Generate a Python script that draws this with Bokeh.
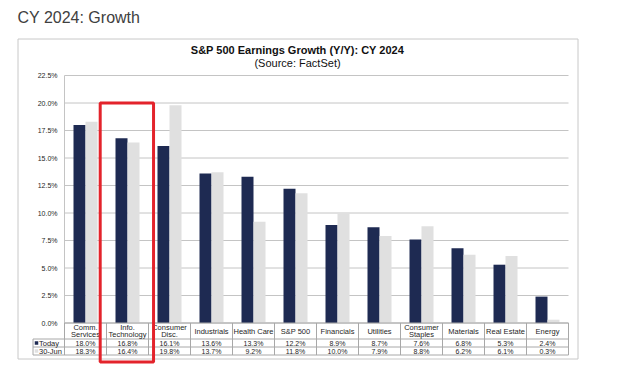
from bokeh.plotting import figure
from bokeh.models import Range1d
from bokeh.core.properties import value
from bokeh.embed import file_html
from bokeh.resources import INLINE

# ---------------- data ----------------
page_title = "CY 2024: Growth"
chart_title = "S&P 500 Earnings Growth (Y/Y): CY 2024"
chart_subtitle = "(Source: FactSet)"
categories = ["Comm.\nServices", "Info.\nTechnology", "Consumer\nDisc.", "Industrials",
              "Health Care", "S&P 500", "Financials", "Utilities", "Consumer\nStaples",
              "Materials", "Real Estate", "Energy"]
series_names = ["Today", "30-Jun"]
today = [18.0, 16.8, 16.1, 13.6, 13.3, 12.2, 8.9, 8.7, 7.6, 6.8, 5.3, 2.4]
jun30 = [18.3, 16.4, 19.8, 13.7, 9.2, 11.8, 10.0, 7.9, 8.8, 6.2, 6.1, 0.3]
y_ticks = [0.0, 2.5, 5.0, 7.5, 10.0, 12.5, 15.0, 17.5, 20.0, 22.5]
y_tick_labels = ["0.0%", "2.5%", "5.0%", "7.5%", "10.0%", "12.5%", "15.0%", "17.5%", "20.0%", "22.5%"]
highlighted = "Info.\nTechnology"

# ---------------- geometry ----------------
W, H = 630, 364
ORIGIN = 0      # observed screen position of the canvas origin
PX0 = 64.0      # screen x of plot left edge
CAT_W = 42.0    # px per category
PY0 = 322.5     # screen y of 0 %
PX_PER = 11.0   # px per 1 %

def dx(sx):
    return (sx - PX0) / CAT_W

def dy(sy):
    return (PY0 - sy) / PX_PER

FONT = value("Liberation Sans")
DARK = "#1e2a52"
LIGHT = "#e0e0e0"
GRID = "#c4c4c4"
TABLE = "#a8a8a8"
TXT = "#262626"

p = figure(width=W, height=H, output_backend="svg", toolbar_location=None,
           x_range=Range1d(dx(ORIGIN), dx(ORIGIN + W)),
           y_range=Range1d(dy(ORIGIN + H), dy(ORIGIN)),
           x_axis_type=None, y_axis_type=None, min_border=0,
           outline_line_color=None, background_fill_color="white")

n = len(categories)
bw = 12.0 / CAT_W

# outer chart box
p.quad(left=[dx(17.5)], right=[dx(577.5)], top=[dy(38.5)], bottom=[dy(358.5)],
       fill_alpha=0, line_color="#c8c8c8", line_width=1)

# gridlines
p.segment(x0=[0] * len(y_ticks), x1=[n] * len(y_ticks), y0=y_ticks, y1=y_ticks,
          line_color=GRID, line_width=1)
# y axis line
p.segment(x0=[0], x1=[0], y0=[0], y1=[y_ticks[-1]], line_color=GRID, line_width=1)

# y tick labels
p.text(x=[dx(57)] * len(y_ticks), y=y_ticks, text=y_tick_labels, text_font=FONT,
       text_font_size="7px", text_align="right", text_baseline="middle", text_color=TXT)

# bars
xc = [i + 0.5 for i in range(n)]
p.vbar(x=[c - bw / 2 for c in xc], top=today, bottom=0, width=bw, fill_color=DARK, line_color=None)
p.vbar(x=[c + bw / 2 for c in xc], top=jun30, bottom=0, width=bw, fill_color=LIGHT, line_color=None)

# table lines
row_lines = [338.5, 346.5, 354.5]
p.segment(x0=[dx(32.5)] * 3, x1=[n] * 3, y0=[dy(s) for s in row_lines], y1=[dy(s) for s in row_lines],
          line_color=TABLE, line_width=1)
p.segment(x0=[0], x1=[n], y0=[0], y1=[0], line_color=TABLE, line_width=1)
p.segment(x0=[dx(32.5)], x1=[dx(32.5)], y0=[dy(338.5)], y1=[dy(354.5)], line_color=TABLE, line_width=1)
p.segment(x0=list(range(n + 1)), x1=list(range(n + 1)), y0=[0] * (n + 1), y1=[dy(354.5)] * (n + 1),
          line_color=TABLE, line_width=1)

# category labels
one_x, one_y, one_t = [], [], []
two_x, two_y, two_t = [], [], []
for i, c in enumerate(categories):
    parts = c.split("\n")
    if len(parts) == 1:
        one_x.append(xc[i]); one_y.append(dy(330.5)); one_t.append(parts[0])
    else:
        two_x += [xc[i], xc[i]]
        two_y += [dy(327.3), dy(333.8)]
        two_t += parts
p.text(x=one_x, y=one_y, text=one_t, text_font=FONT, text_font_size="7.5px",
       text_align="center", text_baseline="middle", text_color=TXT)
p.text(x=two_x, y=two_y, text=two_t, text_font=FONT, text_font_size="7.5px",
       text_align="center", text_baseline="middle", text_color=TXT)

# values rows
p.text(x=xc, y=[dy(342.5)] * n, text=[f"{v:.1f}%" for v in today], text_font=FONT,
       text_font_size="7px", text_align="center", text_baseline="middle", text_color=TXT)
p.text(x=xc, y=[dy(350.5)] * n, text=[f"{v:.1f}%" for v in jun30], text_font=FONT,
       text_font_size="7px", text_align="center", text_baseline="middle", text_color=TXT)

# legend cells
p.scatter(x=[dx(36)], y=[dy(342.5)], marker="square", size=3.5, fill_color=DARK, line_color=None)
p.scatter(x=[dx(36)], y=[dy(350.5)], marker="square", size=3.5, fill_color=LIGHT, line_color=None)
p.text(x=[dx(38.5)] * 2, y=[dy(342.5), dy(350.5)], text=series_names, text_font=FONT,
       text_font_size="7.5px", text_align="left", text_baseline="middle", text_color=TXT)

# titles
p.text(x=[dx(297)], y=[dy(49)], text=[chart_title], text_font=FONT, text_font_size="11px",
       text_font_style="bold", text_align="center", text_baseline="middle", text_color="#111111")
p.text(x=[dx(297)], y=[dy(62)], text=[chart_subtitle], text_font=FONT, text_font_size="11px",
       text_align="center", text_baseline="middle", text_color="#111111")
p.text(x=[dx(17)], y=[dy(17)], text=[page_title], text_font=FONT, text_font_size="16px",
       text_align="left", text_baseline="middle", text_color="#404040")

# highlight box
hi = categories.index(highlighted)
p.quad(left=[hi - 0.15], right=[hi + 1 + 0.12], top=[dy(102.5)], bottom=[dy(361.5)],
       fill_alpha=0, line_color="#e3232b", line_width=3)

open("out.html", "w").write(file_html(p, INLINE))
